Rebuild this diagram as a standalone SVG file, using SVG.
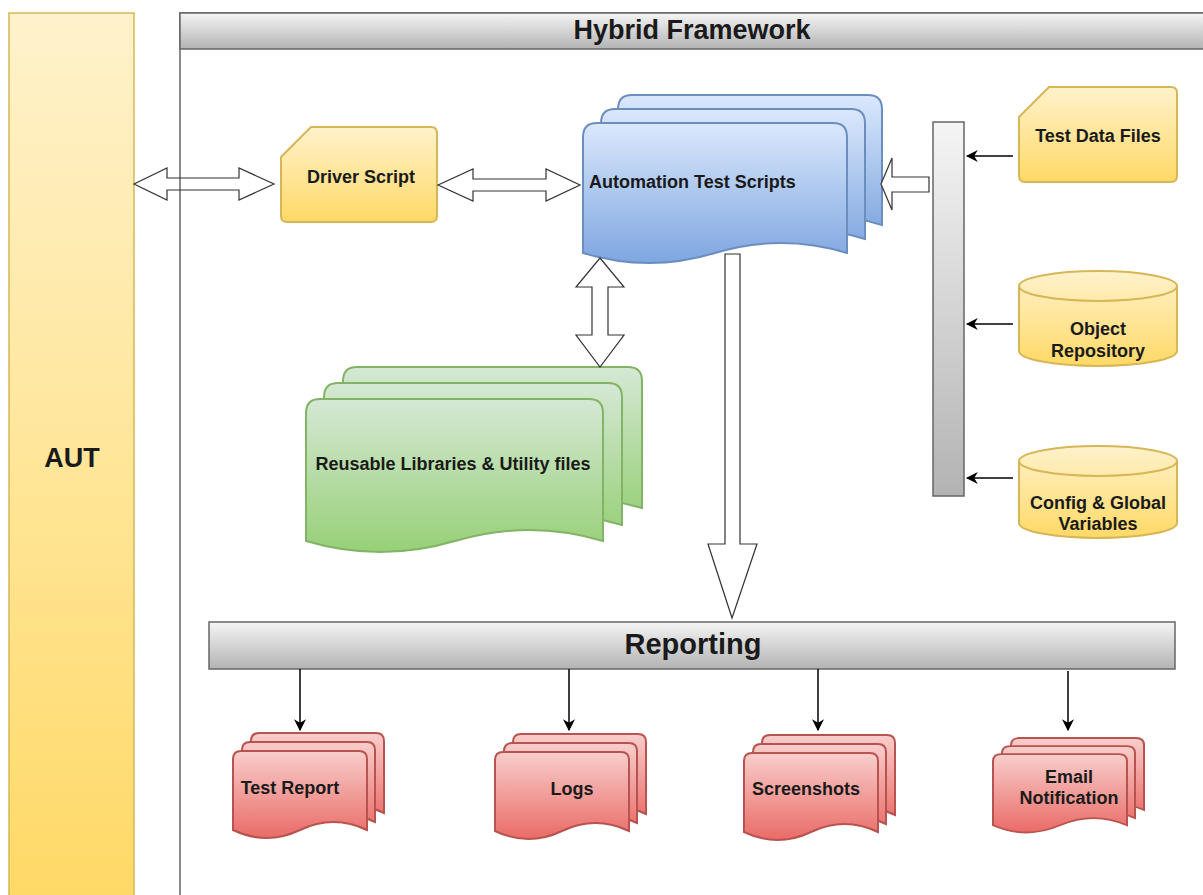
<svg xmlns="http://www.w3.org/2000/svg" width="1203" height="895" viewBox="0 0 1203 895">
<defs>
<linearGradient id="gY" x1="0" y1="0" x2="0" y2="1"><stop offset="0" stop-color="#fff2cc"/><stop offset="1" stop-color="#ffd966"/></linearGradient>
<linearGradient id="gB" x1="0" y1="0" x2="0" y2="1"><stop offset="0" stop-color="#dae8fc"/><stop offset="1" stop-color="#7ea6e0"/></linearGradient>
<linearGradient id="gG" x1="0" y1="0" x2="0" y2="1"><stop offset="0" stop-color="#d5e8d4"/><stop offset="1" stop-color="#97d077"/></linearGradient>
<linearGradient id="gR" x1="0" y1="0" x2="0" y2="1"><stop offset="0" stop-color="#f8cecc"/><stop offset="1" stop-color="#ea6b66"/></linearGradient>
<linearGradient id="gS" x1="0" y1="0" x2="0" y2="1"><stop offset="0" stop-color="#f5f5f5"/><stop offset="1" stop-color="#b3b3b3"/></linearGradient>
<marker id="ah" viewBox="0 0 10 10" refX="9" refY="5" markerWidth="12" markerHeight="12" markerUnits="userSpaceOnUse" orient="auto">
<path d="M0,0 L10,5 L0,10 L3,5 Z" fill="#000"/>
</marker>
<g id="reddoc">
<path class="red" d="M18,80 L18,8 Q18,0 26,0 L143,0 Q151,0 151,8 L151,80 Q118,64 84.5,80 Q51,96 18,80 Z"/>
<path class="red" d="M9,89 L9,17 Q9,9 17,9 L134,9 Q142,9 142,17 L142,89 Q109,73 75.5,89 Q42,105 9,89 Z"/>
<path class="red" d="M0,97 L0,26 Q0,18 8,18 L126,18 Q134,18 134,26 L134,97 Q100.5,81 67,97 Q33.5,113 0,97 Z"/>
</g>
</defs>
<style>
.t{font-family:"Liberation Sans",Arial,sans-serif;font-weight:bold;fill:#1a1a1a;}
.s18{font-size:18px;}
.yel{fill:url(#gY);stroke:#d6b656;stroke-width:2;}
.blue{fill:url(#gB);stroke:#6c8ebf;stroke-width:2;}
.grn{fill:url(#gG);stroke:#82b366;stroke-width:2;}
.red{fill:url(#gR);stroke:#b85450;stroke-width:2;}
.gry{fill:url(#gS);stroke:#666666;stroke-width:1.5;}
.blk{fill:#ffffff;stroke:#333333;stroke-width:1.2;}
.ln{fill:none;stroke:#000;stroke-width:1.5;marker-end:url(#ah);}
</style>
<rect width="1203" height="895" fill="#ffffff"/>

<g id="aut">
<rect x="9" y="13" width="125" height="895" fill="url(#gY)" stroke="#d6b656" stroke-width="1.5"/>
<text class="t" x="72" y="467" font-size="27" text-anchor="middle">AUT</text>
</g>

<g id="hybrid-framework">
<rect x="180" y="13" width="1040" height="900" fill="none" stroke="#666666" stroke-width="1.5"/>
<rect class="gry" x="180" y="13" width="1040" height="36"/>
<text class="t" x="692" y="39" font-size="27" text-anchor="middle">Hybrid Framework</text>
</g>

<g id="driver-script">
<path class="yel" d="M281,157 L311,127 L431,127 Q437,127 437,133 L437,216 Q437,222 431,222 L287,222 Q281,222 281,216 Z"/>
<text class="t s18" x="361" y="183" text-anchor="middle">Driver Script</text>
</g>

<g id="automation-test-scripts">
<path class="blue" d="M618,225 L618,109 Q618,95 632,95 L868,95 Q882,95 882,109 L882,225 Q816,205 750,225 Q684,245 618,225 Z"/>
<path class="blue" d="M601,239 L601,123 Q601,109 615,109 L851,109 Q865,109 865,123 L865,239 Q799,219 733,239 Q667,259 601,239 Z"/>
<path class="blue" d="M583,253 L583,137 Q583,123 597,123 L833,123 Q847,123 847,137 L847,253 Q781,233 715,253 Q649,273 583,253 Z"/>
<text class="t s18" x="589" y="188">Automation Test Scripts</text>
</g>

<g id="reusable-libraries">
<path class="grn" d="M343,508 L343,381 Q343,367 357,367 L628,367 Q642,367 642,381 L642,508 Q567,486 492,508 Q418,530 343,508 Z"/>
<path class="grn" d="M324,525 L324,397 Q324,383 338,383 L608,383 Q622,383 622,397 L622,525 Q548,503 473,525 Q399,547 324,525 Z"/>
<path class="grn" d="M306,541 L306,413 Q306,399 320,399 L589,399 Q603,399 603,413 L603,541 Q529,519 455,541 Q380,563 306,541 Z"/>
<text class="t s18" x="453" y="470" text-anchor="middle">Reusable Libraries &amp; Utility files</text>
</g>

<g id="input-bar">
<rect class="gry" x="933" y="122" width="31" height="374"/>
</g>

<g id="test-data-files">
<path class="yel" d="M1019,117 L1049,87 L1171,87 Q1177,87 1177,93 L1177,176 Q1177,182 1171,182 L1025,182 Q1019,182 1019,176 Z"/>
<text class="t s18" x="1098" y="142" text-anchor="middle">Test Data Files</text>
</g>

<g id="object-repository">
<path class="yel" d="M1019,286 A79,15 0 0 1 1177,286 L1177,351 A79,15 0 0 1 1019,351 Z"/>
<path d="M1019,286 A79,15 0 0 0 1177,286" fill="none" stroke="#d6b656" stroke-width="2"/>
<text class="t s18" x="1098" y="335" text-anchor="middle">Object</text>
<text class="t s18" x="1098" y="357" text-anchor="middle">Repository</text>
</g>

<g id="config-global-variables">
<path class="yel" d="M1019,461 A79,15 0 0 1 1177,461 L1177,523 A79,15 0 0 1 1019,523 Z"/>
<path d="M1019,461 A79,15 0 0 0 1177,461" fill="none" stroke="#d6b656" stroke-width="2"/>
<text class="t s18" x="1098" y="509" text-anchor="middle">Config &amp; Global</text>
<text class="t s18" x="1098" y="530" text-anchor="middle">Variables</text>
</g>

<g id="reporting">
<rect class="gry" x="209" y="622" width="966" height="47"/>
<text class="t" x="693" y="654" font-size="29" text-anchor="middle">Reporting</text>
</g>

<g id="test-report">
<use href="#reddoc" transform="translate(233,733)"/>
<text class="t s18" x="290" y="794" text-anchor="middle">Test Report</text>
</g>
<g id="logs">
<use href="#reddoc" transform="translate(495,734)"/>
<text class="t s18" x="572" y="795" text-anchor="middle">Logs</text>
</g>
<g id="screenshots">
<use href="#reddoc" transform="translate(744,735)"/>
<text class="t s18" x="806" y="795" text-anchor="middle">Screenshots</text>
</g>
<g id="email-notification">
<use href="#reddoc" transform="translate(993,738) scale(1,0.9)"/>
<text class="t s18" x="1069" y="783" text-anchor="middle">Email</text>
<text class="t s18" x="1069" y="804" text-anchor="middle">Notification</text>
</g>

<g id="connectors">
<path d="M134,184 L167,168 L167,178 L239,178 L239,168 L274,184 L239,200 L239,190 L167,190 L167,200 Z" fill="none" stroke="#333333" stroke-width="1.2"/>
<path class="blk" d="M438,185 L473,169 L473,179 L546,179 L546,169 L580,185 L546,201 L546,191 L473,191 L473,201 Z"/>
<path class="blk" d="M600,258 L624,287 L608,287 L608,335 L624,335 L600,367 L576,335 L592,335 L592,287 L576,287 Z"/>
<path class="blk" d="M881,184 L892,158 L892,177 L929,177 L929,192 L892,192 L892,210 Z"/>
<path class="blk" d="M725,254 L740,254 L740,544 L757,544 L732,618 L708,544 L725,544 Z"/>
<line class="ln" x1="1013" y1="156" x2="967" y2="156"/>
<line class="ln" x1="1013" y1="324" x2="967" y2="324"/>
<line class="ln" x1="1013" y1="478" x2="967" y2="478"/>
<line class="ln" x1="300" y1="669" x2="300" y2="730"/>
<line class="ln" x1="569" y1="669" x2="569" y2="730"/>
<line class="ln" x1="818" y1="669" x2="818" y2="730"/>
<line class="ln" x1="1068" y1="671" x2="1068" y2="730"/>
</g>
</svg>
